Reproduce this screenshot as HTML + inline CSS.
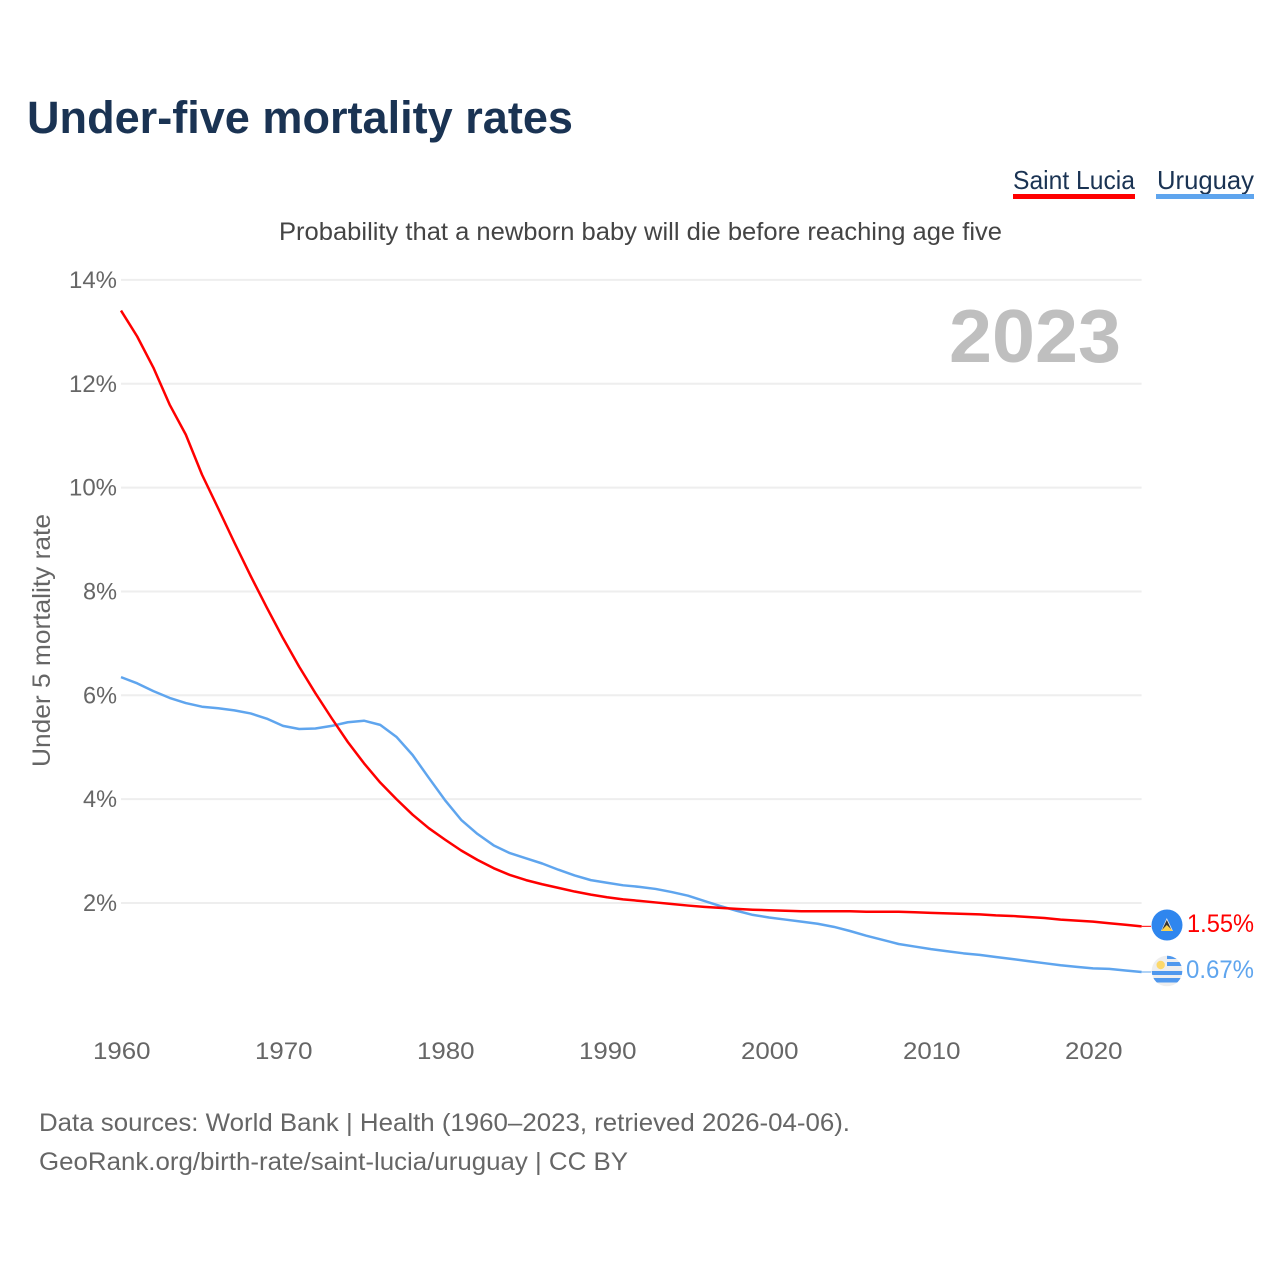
<!DOCTYPE html>
<html lang="en">
<head>
<meta charset="utf-8">
<title>Under-five mortality rates</title>
<style>
  html, body { margin: 0; padding: 0; background: #fff; }
  svg { display: block; }
  text { font-family: "Liberation Sans", sans-serif; }
</style>
</head>
<body>
<svg id="chart" xmlns="http://www.w3.org/2000/svg" width="1280" height="1280" viewBox="0 0 1280 1280">
  <rect width="1280" height="1280" fill="#ffffff"/>
  <text x="27" y="133" font-size="45" font-weight="700" fill="#1a3353" textLength="546" lengthAdjust="spacingAndGlyphs">Under-five mortality rates</text>

  <g>
    <text x="1013" y="189" font-size="26" fill="#1a3353" textLength="122" lengthAdjust="spacingAndGlyphs">Saint Lucia</text>
    <rect x="1013" y="194" width="122" height="5" fill="#ff0000"/>
  </g>
  <g>
    <text x="1157" y="189" font-size="26" fill="#1a3353" textLength="97" lengthAdjust="spacingAndGlyphs">Uruguay</text>
    <rect x="1156" y="194" width="98" height="5" fill="#5fa5ee"/>
  </g>

  <text x="279" y="240" font-size="25" fill="#444444" textLength="723" lengthAdjust="spacingAndGlyphs">Probability that a newborn baby will die before reaching age five</text>

  <g id="grid"></g>
  <g id="yticks"></g>
  <g id="xticks"></g>

  <text transform="translate(50 767) rotate(-90)" font-size="25" fill="#666666" textLength="253" lengthAdjust="spacingAndGlyphs">Under 5 mortality rate</text>
  <text x="949" y="362" font-size="75" font-weight="700" fill="#bfbfbf" textLength="172" lengthAdjust="spacingAndGlyphs">2023</text>

  <g id="series"></g>

  <g>
    <circle cx="1167" cy="925" r="15.5" fill="#2f86ee"/>
    <polygon points="1166.8,918 1173,931 1161,931" fill="#e8e8e8"/>
    <polygon points="1166.8,920 1171.5,930 1162,930" fill="#333333"/>
    <polygon points="1166.8,925 1173,931 1161,931" fill="#fcd34d"/>
  </g>
  <g>
    <clipPath id="uy-clip"><circle cx="1167" cy="971" r="15.3"/></clipPath>
    <g clip-path="url(#uy-clip)">
      <rect x="1151" y="955" width="32" height="32" fill="#eeeeee"/>
      <rect x="1167" y="955" width="16" height="4" fill="#4f98ee"/>
      <rect x="1167" y="962" width="16" height="4" fill="#4f98ee"/>
      <rect x="1151" y="971" width="32" height="4" fill="#4f98ee"/>
      <rect x="1151" y="978" width="32" height="4.5" fill="#4f98ee"/>
      <circle cx="1160.7" cy="965" r="4.2" fill="#fcd86a"/>
    </g>
  </g>

  <text x="1187" y="932" font-size="25" fill="#ff0000" textLength="67" lengthAdjust="spacingAndGlyphs">1.55%</text>
  <text x="1186" y="978" font-size="25" fill="#5fa5ee" textLength="68" lengthAdjust="spacingAndGlyphs">0.67%</text>

  <text x="39" y="1131" font-size="25" fill="#666666" textLength="811" lengthAdjust="spacingAndGlyphs">Data sources: World Bank | Health (1960–2023, retrieved 2026-04-06).</text>
  <text x="39" y="1170" font-size="25" fill="#666666" textLength="589" lengthAdjust="spacingAndGlyphs">GeoRank.org/birth-rate/saint-lucia/uruguay | CC BY</text>
</svg>
<script>
const startYear = 1960;
const saintLucia = [
  13.41, 12.91, 12.31, 11.6, 11.02, 10.25, 9.6, 8.94, 8.3, 7.69,
  7.1, 6.55, 6.04, 5.56, 5.1, 4.69, 4.32, 4.0, 3.7, 3.44,
  3.22, 3.01, 2.83, 2.67, 2.54, 2.44, 2.36, 2.29, 2.22, 2.16,
  2.11, 2.07, 2.04, 2.01, 1.98, 1.95, 1.925, 1.905, 1.885, 1.87,
  1.86, 1.85, 1.84, 1.84, 1.84, 1.84, 1.83, 1.83, 1.83, 1.82,
  1.81, 1.80, 1.79, 1.78, 1.76, 1.75, 1.73, 1.71, 1.68, 1.66,
  1.64, 1.61, 1.58, 1.55
];
const uruguay = [
  6.35, 6.23, 6.08, 5.95, 5.85, 5.78, 5.75, 5.71, 5.65, 5.55,
  5.41, 5.35, 5.36, 5.41, 5.48, 5.51, 5.43, 5.2, 4.85, 4.41,
  3.98, 3.6, 3.33, 3.11, 2.96, 2.86, 2.76, 2.64, 2.53, 2.44,
  2.39, 2.34, 2.31, 2.27, 2.21, 2.14, 2.04, 1.94, 1.85, 1.77,
  1.72, 1.68, 1.64, 1.60, 1.54, 1.46, 1.37, 1.29, 1.21, 1.16,
  1.11, 1.07, 1.03, 1.0, 0.96, 0.92, 0.88, 0.84, 0.80, 0.77,
  0.74, 0.73, 0.70, 0.67
];
const yTicks = [2, 4, 6, 8, 10, 12, 14];
const xTicks = [1960, 1970, 1980, 1990, 2000, 2010, 2020];

const NS = 'http://www.w3.org/2000/svg';
function xScale(year) { return 121 + (year - 1960) * 16.2; }
function yScale(v) { return 1006.8 - v * 51.92; }
const plotRight = xScale(2023);
function make(tag, attrs, parent) {
  const el = document.createElementNS(NS, tag);
  for (const k in attrs) el.setAttribute(k, attrs[k]);
  parent.appendChild(el);
  return el;
}

const grid = document.getElementById('grid');
const yG = document.getElementById('yticks');
const xG = document.getElementById('xticks');
yTicks.forEach(function (t) {
  const y = yScale(t);
  const line = make('line', { x1: plotRight - 1020.6, x2: plotRight, y1: y, y2: y, stroke: '#eeeeee', 'stroke-width': 2 }, grid);
  
  
  const w = t >= 10 ? 48 : 34;
  const label = make('text', { x: 117 - w, y: y + 8, 'font-size': 24, fill: '#666666', textLength: w, lengthAdjust: 'spacingAndGlyphs' }, yG);
  label.textContent = t + '%';
  
  
});
xTicks.forEach(function (t) {
  const label = make('text', { x: xScale(t) - 28, y: 1059, 'font-size': 24, fill: '#666666', textLength: 57.5, lengthAdjust: 'spacingAndGlyphs' }, xG);
  label.textContent = String(t);
  
  
});

function pointsOf(values) {
  return values.map(function (v, i) {
    return xScale(startYear + i).toFixed(2) + ',' + yScale(v).toFixed(2);
  }).join(' ');
}
const series = document.getElementById('series');

const uyLine = make('polyline', { points: pointsOf(uruguay), fill: 'none', stroke: '#5fa5ee', 'stroke-width': 2.5, 'stroke-linejoin': 'round' }, series);


const slLine = make('polyline', { points: pointsOf(saintLucia), fill: 'none', stroke: '#ff0000', 'stroke-width': 2.5, 'stroke-linejoin': 'round' }, series);



const slEnd = yScale(saintLucia[saintLucia.length - 1]);
const uyEnd = yScale(uruguay[uruguay.length - 1]);
const slConn = make('line', { x1: plotRight, x2: 1151, y1: slEnd, y2: slEnd, stroke: '#ff0000', 'stroke-width': 1 }, series);


const uyConn = make('line', { x1: plotRight, x2: 1151, y1: uyEnd, y2: uyEnd, stroke: '#5fa5ee', 'stroke-width': 1 }, series);


</script>
</body>
</html>
